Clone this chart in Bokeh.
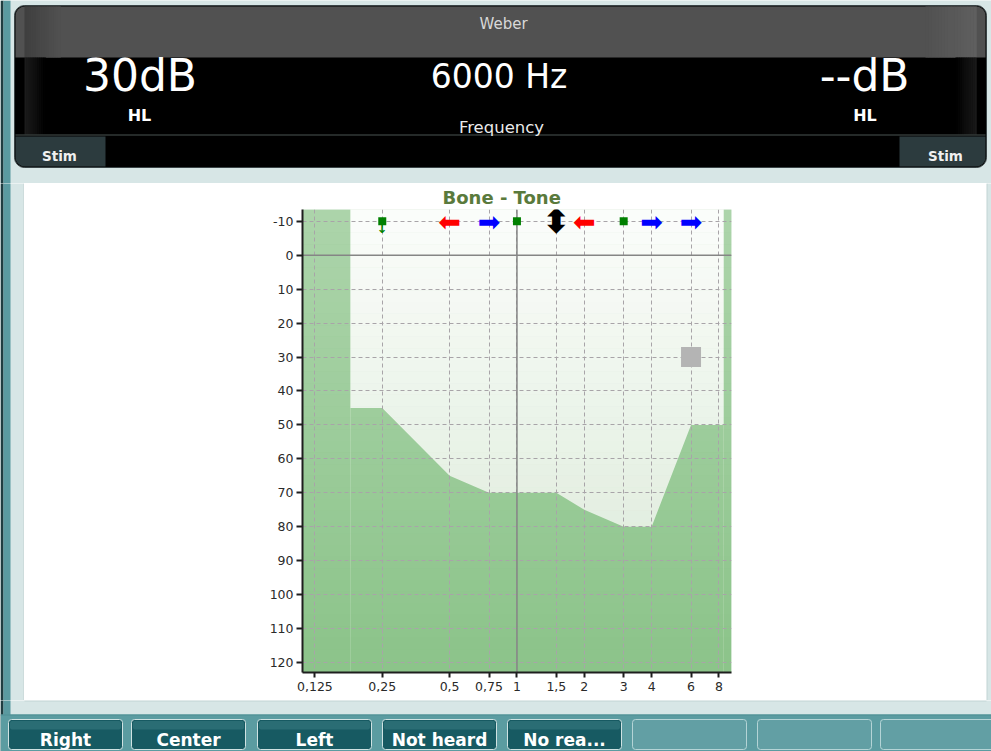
import numpy as np
from bokeh.plotting import figure
from bokeh.models import FixedTicker, Span, Range1d
from bokeh.layouts import column, row
from bokeh.embed import file_html
from bokeh.resources import INLINE
from bokeh.core.properties import value

# ---------------- data ----------------
freq_ticks = [0.125, 0.25, 0.5, 0.75, 1, 1.5, 2, 3, 4, 6, 8]
freq_labels = ["0,125", "0,25", "0,5", "0,75", "1", "1,5", "2", "3", "4", "6", "8"]
level_ticks = [-10, 0, 10, 20, 30, 40, 50, 60, 70, 80, 90, 100, 110, 120]
level_labels = ["-10", "0", "10", "20", "30", "40", "50", "60", "70", "80", "90", "100", "110", "120"]

# maximum output limit of the bone transducer (green = out of range)
limit_freqs = [0.18, 0.25, 0.5, 0.75, 1, 1.5, 2, 3, 4, 6, 8.4]
limit_levels = [45, 45, 65, 70, 70, 70, 75, 80, 80, 50, 50]
low_limit_freq = 0.18
high_limit_freq = 8.4

weber_level = -10
not_heard_freqs = [0.25, 1, 3]
no_response_freqs = [0.25]
left_freqs = [0.5, 2]
right_freqs = [0.75, 4, 6]
center_freqs = [1.5]

cursor_freq = [6]
cursor_level = [30]

readout_left = "30dB"
readout_freq = "6000 Hz"
readout_right = "--dB"
test_name = "Weber"
chart_title = "Bone - Tone"
button_labels = ["Right", "Center", "Left", "Not heard", "No rea...", "", "", ""]

# ---------------- styles ----------------
BG = "#d7e6e6"
TEAL = "#5a9aa0"
DARK_EDGE = "#1f3d41"
FONT = "DejaVu Sans"


def ui_fig(w, h, x0, y0):
    f = figure(width=w, height=h, x_range=Range1d(x0, x0 + w), y_range=Range1d(y0 + h, y0),
               toolbar_location=None, output_backend="svg",
               x_axis_location=None, y_axis_location=None, min_border=0)
    f.grid.visible = False
    f.outline_line_color = None
    f.background_fill_color = BG
    f.border_fill_color = BG
    if "frame_align" in f.properties():
        f.frame_align = False
    return f


def edge_strip(f, y0, y1):
    f.quad(left=[0], right=[3], top=[y0], bottom=[y1], fill_color=DARK_EDGE, line_color=None)
    f.quad(left=[3], right=[10], top=[y0], bottom=[y1], fill_color=TEAL, line_color=None)


def hgrad(f, x0, x1, y0, y1, c0, c1, n=16):
    xs = np.linspace(x0, x1, n + 1)
    a = np.array([int(c0[i:i + 2], 16) for i in (1, 3, 5)], dtype=float)
    b = np.array([int(c1[i:i + 2], 16) for i in (1, 3, 5)], dtype=float)
    cols = []
    for k in range(n):
        t = (k + 0.5) / n
        c = a + (b - a) * t
        cols.append("#%02x%02x%02x" % tuple(int(round(v)) for v in c))
    f.quad(left=xs[:-1], right=xs[1:] + 0.3, top=[y0] * n, bottom=[y1] * n,
           fill_color=cols, line_color=None)


def txt(f, x, y, s, size, color="#ffffff", bold=False, align="center"):
    f.text(x=[x], y=[y], text=[s], text_font=value(FONT), text_font_size=f"{size}px",
           text_font_style="bold" if bold else "normal", text_color=color,
           text_align=align, text_baseline="alphabetic")


# ---------------- header (page y 0..183) ----------------
hdr = ui_fig(991, 183, 0, 0)
edge_strip(hdr, 0, 190)
hdr.quad(left=[14], right=[986], top=[5], bottom=[167], fill_color="#000000",
         line_color="#3a4446", border_radius=10)
hdr.quad(left=[15], right=[985], top=[6], bottom=[57], fill_color="#515151",
         line_color=None, border_radius=(9, 9, 0, 0))
hgrad(hdr, 24, 60, 6, 57, "#3e3e3e", "#515151")
hgrad(hdr, 925, 976, 6, 57, "#515151", "#5f5f5f")
hgrad(hdr, 24, 45, 57, 134, "#1c1c1c", "#000000", n=10)
hgrad(hdr, 955, 976, 57, 134, "#000000", "#1a1a1a", n=10)
hdr.segment(x0=[15], y0=[134.5], x1=[985], y1=[134.5], line_color="#4a5452", line_width=1)
hdr.quad(left=[15], right=[105], top=[136], bottom=[166], fill_color="#2c3b3e",
         line_color=None, border_radius=(0, 0, 0, 9))
hdr.quad(left=[899], right=[985], top=[136], bottom=[166], fill_color="#2c3b3e",
         line_color=None, border_radius=(0, 0, 9, 0))

txt(hdr, 503, 23, test_name, 15, color="#d8d8d8")
txt(hdr, 139.5, 75, readout_left, 44)
txt(hdr, 498.5, 76, readout_freq, 33)
txt(hdr, 909, 75, readout_right, 44, align="right")
txt(hdr, 139, 115, "HL", 16, bold=True)
txt(hdr, 864.5, 115, "HL", 16, bold=True)
txt(hdr, 501, 127, "Frequency", 16.5, color="#eaeaea")
txt(hdr, 59, 155.5, "Stim", 13.5, color="#f0f0f0", bold=True)
txt(hdr, 945, 155.5, "Stim", 13.5, color="#f0f0f0", bold=True)

# ---------------- sides of the white panel (page y 183..700) ----------------
side_l = ui_fig(24, 517, 0, 183)
edge_strip(side_l, 170, 720)
side_l.segment(x0=[23.5], y0=[183], x1=[23.5], y1=[700], line_color="#c2d3d3", line_width=1)
side_r = ui_fig(5, 517, 986, 183)
side_r.segment(x0=[986.5], y0=[183], x1=[986.5], y1=[700], line_color="#c2d3d3", line_width=1)

# ---------------- audiogram ----------------
p = figure(width=962, height=517, x_axis_type="log",
           x_range=Range1d(0.11, 9.1), y_range=Range1d(123, -13.5),
           toolbar_location=None, output_backend="svg",
           min_border_left=278, min_border_right=255, min_border_top=26, min_border_bottom=28,
           title=chart_title)
p.border_fill_color = "#ffffff"
p.background_fill_color = "#dcebd9"
p.outline_line_color = None

p.title.text_font = FONT
p.title.text_font_size = "18px"
p.title.text_font_style = "bold"
p.title.text_color = "#5a7a3c"
p.title.align = "left"
p.title.offset = 140
p.title.standoff = 3

x_lo, x_hi = p.x_range.start, p.x_range.end
y_top, y_bot = p.y_range.end, p.y_range.start
n_bands = 40
edges = np.linspace(y_top, y_bot, n_bands + 1)
t_mid = (np.arange(n_bands) + 0.5) / n_bands

# light background gradient (white at the top)
p.quad(left=[x_lo] * n_bands, right=[x_hi] * n_bands, top=edges[:-1], bottom=edges[1:],
       fill_color="#ffffff", fill_alpha=list(0.85 * (1 - t_mid) ** 1.5), line_color=None, level="image")

# out-of-range (green) area
GREEN = "#8cc48a"
p.varea(x=limit_freqs, y1=limit_levels, y2=[y_bot] * len(limit_freqs),
        fill_color=GREEN, level="image")
p.quad(left=[x_lo, high_limit_freq], right=[low_limit_freq, x_hi], top=[y_top, y_top],
       bottom=[y_bot, y_bot], fill_color=GREEN, line_color=None, level="image")

# overall soft gradient
p.quad(left=[x_lo] * n_bands, right=[x_hi] * n_bands, top=edges[:-1], bottom=edges[1:],
       fill_color="#ffffff", fill_alpha=list(0.28 * (1 - t_mid)), line_color=None, level="image")

# axes
for ax in (p.xaxis[0], p.yaxis[0]):
    ax.axis_line_color = "#1e1e1e"
    ax.axis_line_width = 2
    ax.major_tick_line_color = "#1e1e1e"
    ax.major_tick_line_width = 2
    ax.major_tick_in = 0
    ax.minor_tick_line_color = None
    ax.major_label_text_font = FONT
    ax.major_label_text_font_size = "12.5px"
    ax.major_label_text_color = "#2a2a2a"

p.xaxis.ticker = FixedTicker(ticks=freq_ticks)
p.xaxis.major_label_overrides = {t: l for t, l in zip(freq_ticks, freq_labels)}
p.xaxis.major_tick_out = 5
p.xaxis.major_label_standoff = 4
p.yaxis.ticker = FixedTicker(ticks=level_ticks)
p.yaxis.major_label_overrides = {t: l for t, l in zip(level_ticks, level_labels)}
p.yaxis.major_tick_out = 6
p.yaxis.major_label_standoff = 3

p.xgrid.ticker = FixedTicker(ticks=freq_ticks)
p.ygrid.ticker = FixedTicker(ticks=level_ticks)
for g in (p.xgrid[0], p.ygrid[0]):
    g.grid_line_color = "#a8a4a8"
    g.grid_line_dash = "4 3"
    g.grid_line_width = 1

p.add_layout(Span(location=1, dimension="height", line_color="#858585", line_width=1.5, level="underlay"))
p.add_layout(Span(location=0, dimension="width", line_color="#858585", line_width=1.5, level="underlay"))

# symbols
p.text(x=no_response_freqs, y=[weber_level] * len(no_response_freqs), text=["↓"] * len(no_response_freqs),
       text_font=value(FONT), text_font_size="13px", text_font_style="bold", text_color="#008000",
       text_align="center", text_baseline="middle", y_offset=7)
p.scatter(x=not_heard_freqs, y=[weber_level] * len(not_heard_freqs), marker="square", size=8,
          fill_color="#008000", line_color=None)
p.text(x=left_freqs, y=[weber_level] * len(left_freqs), text=["⬅"] * len(left_freqs),
       text_font=value(FONT), text_font_size="27px", text_color="#ff0000",
       text_align="center", text_baseline="middle")
p.text(x=right_freqs, y=[weber_level] * len(right_freqs), text=["➡"] * len(right_freqs),
       text_font=value(FONT), text_font_size="27px", text_color="#0000ff",
       text_align="center", text_baseline="middle")
p.text(x=center_freqs, y=[weber_level] * len(center_freqs), text=["⬍"] * len(center_freqs),
       text_font=value(FONT), text_font_size="34px", text_font_style="bold", text_color="#000000",
       text_align="center", text_baseline="middle")
p.scatter(x=cursor_freq, y=cursor_level, marker="square", size=20,
          fill_color="#b4b4b4", line_color=None)

# ---------------- bottom buttons (page y 700..751) ----------------
bot = ui_fig(991, 51, 0, 700)
edge_strip(bot, 690, 760)
bot.segment(x0=[24], y0=[700.5], x1=[986], y1=[700.5], line_color="#c2d3d3", line_width=1)
bot.quad(left=[0], right=[991], top=[714], bottom=[760], fill_color="#5b9ca1", line_color=None)
bot.segment(x0=[0], y0=[714.5], x1=[991], y1=[714.5], line_color="#4f8e93", line_width=1)
btn_left = [8, 131, 257, 382, 507, 632, 757, 880]
for bl, lab in zip(btn_left, button_labels):
    if lab:
        bot.quad(left=[bl], right=[bl + 114], top=[719], bottom=[749], fill_color="#175a62",
                 line_color="#cfe2e2", line_width=1, border_radius=3)
        bot.quad(left=[bl + 1.5], right=[bl + 112.5], top=[720.5], bottom=[729],
                 fill_color="#2a6d74", line_color=None, border_radius=2)
        txt(bot, bl + 57, 739.5, lab, 17, bold=True)
    else:
        bot.quad(left=[bl], right=[bl + 114], top=[719], bottom=[749], fill_color="#629fa4",
                 line_color="#b4d4d6", line_width=1, border_radius=3)

layout = column(hdr, row(side_l, p, side_r), bot)
open("out.html", "w").write(file_html(layout, INLINE))
